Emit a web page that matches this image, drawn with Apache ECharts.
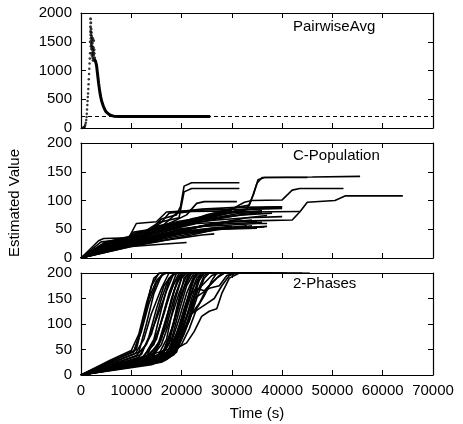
<!DOCTYPE html>
<html><head><meta charset="utf-8">
<script src="https://cdn.jsdelivr.net/npm/echarts@6/dist/echarts.min.js"></script>
<style>html,body{margin:0;padding:0;background:#fff}#c{width:463px;height:424px}</style>
</head><body><div id="c"></div>
<script>
// ---------- DATA ----------
const panelTitles = ['PairwiseAvg', 'C-Population', '2-Phases'];
const xAxisTitle = 'Time (s)';
const yAxisTitle = 'Estimated Value';
const timeRange = [0, 70000];
const timeStep = 10000;
const valueRanges = [[0, 2000, 500], [0, 200, 50], [0, 200, 50]];

// PairwiseAvg panel
const pairwiseRise = [[300,0],[500,8],[650,15],[750,30],[850,55],[950,90],[1050,140],[1100,190],[1150,250],[1200,320],[1250,400],[1300,470],[1350,540],[1400,600],[1450,680],[1500,760],[1550,850],[1600,940],[1650,1030],[1700,1120],[1750,1210],[1800,1300]];
const pairwisePeak = [[1900,1900],[1950,1830],[1900,1760],[2000,1720],[2050,1660],[1950,1620],[2100,1600],[2000,1560],[2150,1520],[2050,1460],[2200,1420],[2100,1380],[2300,1360],[2400,1320],[2200,1260],[2500,1270],[2600,1300],[2700,1220],[2400,1180],[2800,1170],[2300,1560],[2500,1520],[2600,1360],[1900,1680],[2000,1420],[2150,1300],[2350,1220],[1850,1500],[2250,1480],[2450,1400]];
const pairwiseDecay = [[2600,1200],[2900,1160],[3100,1080],[3300,930],[3500,780],[3700,650],[3900,550],[4100,470],[4400,390],[4700,325],[5000,280],[5500,240],[6000,218],[6500,206],[7500,200],[25700,200]];
const referenceLine = [[0,200],[70000,200]];

// C-Population panel (one array per run)
const cPopulationRuns = [
  [[0,0],[3500,30],[4500,34],[9500,35],[11000,60],[15000,63],[17000,80],[21000,82],[24000,85],[31000,88],[40000,89]],
  [[0,0],[4000,28],[9000,32],[10500,45],[14000,50],[16000,68],[19000,75],[19800,90],[20500,125],[22000,131],[31500,131]],
  [[0,0],[5000,25],[10000,35],[13000,48],[15500,62],[19500,70],[20500,115],[22000,121],[31500,121]],
  [[0,0],[6000,24],[10000,30],[14000,45],[17500,60],[21000,75],[23000,95],[24500,98],[31000,98]],
  [[0,0],[5000,20],[10000,30],[15000,45],[20000,60],[25000,75],[31000,88],[33500,92],[35000,130],[36000,140],[46000,141],[55500,142]],
  [[0,0],[6000,22],[12000,35],[17000,55],[22000,68],[28000,78],[33000,85],[34300,110],[35200,136],[36500,140],[45000,140]],
  [[0,0],[7000,23],[13000,38],[18000,55],[24000,70],[30000,85],[32500,97],[34000,100],[40000,101],[42000,118],[43500,121],[52200,121]],
  [[0,0],[8000,22],[14000,35],[20000,48],[26000,60],[30000,64],[36000,65],[42000,66],[43500,80],[45000,97],[50500,100],[52500,108],[64000,108]],
  [[0,0],[10000,20],[16000,24],[21000,27]],
  [[0,0],[9500,19],[15000,28],[22000,40],[27000,50],[31000,52],[37000,55]],
  [[0,0],[9000,21],[15000,32],[20000,43],[26000,50],[32000,53],[36500,54]],
  [[0,0],[8000,22],[14000,36],[19000,48],[25000,57],[30000,60],[36000,62]],
  [[0,0],[7000,25],[11000,32],[14000,50],[17000,58],[22000,62],[27000,66],[33000,70],[40000,72]],
  [[0,0],[6000,27],[10000,35],[13000,42],[15000,55],[19500,64],[24000,70],[28000,78],[33000,80],[43500,81]],
  [[0,0],[5000,28],[10000,38],[13000,45],[16000,62],[17500,78],[21000,82],[26000,84],[35000,85],[40000,86]],
  [[0,0],[4500,26],[9000,34],[11000,44],[14000,48],[16500,58],[19000,78],[22000,81],[30000,82]],
  [[0,0],[5500,24],[11000,36],[15000,45],[18000,55],[23000,65],[28000,75],[32000,84],[37000,88],[40000,88]],
  [[0,0],[7000,20],[12000,30],[17000,40],[22000,48],[27000,52],[32000,54],[34000,56]],
  [[0,0],[8000,20],[13000,27],[18000,36],[23000,44],[28000,50],[35000,52]],
  [[0,0],[6500,22],[12000,32],[16000,38],[19000,50],[24000,55],[29000,57],[35000,60],[37000,60]],
  [[0,0],[4000,22],[8000,30],[12000,40],[16000,50],[18500,60],[21000,64],[26000,68],[32000,75],[38000,78]],
  [[0,0],[7500,22],[12500,30],[17000,38],[21000,46],[26000,52],[30000,55]],
  [[0,0],[9000,24],[14000,33],[20000,42],[25000,48],[28000,52],[33000,56]],
  [[0,0],[5000,23],[10000,33],[14000,42],[18000,50],[21000,58],[24000,66],[28000,72],[31000,77],[36000,80]],
  [[0,0],[6000,26],[10000,36],[12500,45],[16000,55],[20000,58],[23000,65],[27000,75],[31000,80],[36000,82]],
  [[0,0],[8500,25],[13000,36],[18000,46],[22000,52],[26000,58],[30000,65],[33000,70],[37000,74]],
  [[0,0],[10000,22],[16000,30],[20000,35],[24000,40],[26500,42]],
  [[0,0],[7000,24],[12000,34],[16000,44],[20000,54],[23000,60],[30000,63],[35000,64]],
  [[0,0],[6000,25],[11000,34],[16000,48],[21000,58],[26000,66],[31000,74],[35000,78]],
  [[0,0],[9000,22],[15000,34],[20000,46],[24000,55],[29000,62],[34000,66]],
  [[0,0],[5000,26],[9000,32],[12000,46],[16000,52],[20000,62],[25000,72],[30000,80],[35000,86],[37000,87]]
];

// 2-Phases panel (one array per run)
const twoPhasesRuns = [
  [[0,0],[5800,29],[10000,48],[11500,80],[13000,140],[14500,190],[15700,200],[24000,200]],
  [[0,0],[6000,27],[10500,45],[12000,90],[13500,150],[15000,185],[16500,200],[28000,200]],
  [[0,0],[10800,42],[12500,70],[14000,120],[16000,170],[17500,200],[30000,200]],
  [[0,0],[11000,38],[13000,60],[15000,110],[17000,165],[18500,200],[32000,200]],
  [[0,0],[11500,35],[14000,80],[16000,150],[17500,190],[19000,200],[36000,200]],
  [[0,0],[12000,33],[14500,60],[16500,120],[18000,170],[19500,200],[26000,200]],
  [[0,0],[12000,30],[15000,70],[17000,140],[18500,180],[20000,200],[35000,200]],
  [[0,0],[12500,32],[15000,55],[17000,95],[18500,150],[20000,190],[21000,200],[37000,200]],
  [[0,0],[13000,30],[15500,65],[17500,130],[19000,180],[20500,200],[30000,200]],
  [[0,0],[13500,28],[16000,60],[18000,115],[19500,160],[21000,195],[22000,200],[40000,200]],
  [[0,0],[14000,27],[16500,50],[18000,90],[19500,140],[21000,185],[22000,200],[33000,200]],
  [[0,0],[14000,25],[16500,45],[18500,100],[20000,160],[21500,200],[36500,200]],
  [[0,0],[14500,26],[17000,55],[19000,120],[20500,170],[22000,200],[45500,200]],
  [[0,0],[15000,25],[17000,40],[19000,80],[20500,130],[22000,175],[23000,200],[38000,200]],
  [[0,0],[15000,24],[17500,50],[19500,110],[21000,160],[22500,195],[23500,200],[29000,200]],
  [[0,0],[15500,26],[18000,55],[20000,100],[21500,150],[23000,190],[24000,200],[41000,200]],
  [[0,0],[16000,28],[18000,45],[20000,85],[22000,140],[23500,185],[24500,200],[34000,200]],
  [[0,0],[16000,25],[18500,40],[20000,70],[21500,110],[23000,160],[24500,195],[25500,200],[37000,200]],
  [[0,0],[16500,30],[19000,50],[20500,80],[22000,120],[23500,130],[25000,140],[26500,150],[28000,175],[29500,195],[31000,200],[37000,200]],
  [[0,0],[16500,28],[19500,55],[21000,63],[22500,85],[24000,115],[25500,125],[27000,130],[28000,160],[29500,190],[31500,200],[44000,200]],
  [[0,0],[17000,30],[19000,45],[21000,100],[22500,150],[24000,160],[25500,170],[27500,175],[29000,195],[30500,200],[36000,200]],
  [[0,0],[12000,40],[13500,75],[15000,130],[16500,175],[18000,195],[19000,200],[31000,200]],
  [[0,0],[11500,45],[13000,100],[14500,160],[16000,195],[17000,200],[27000,200]],
  [[0,0],[13000,35],[15500,90],[17500,160],[19000,200],[33000,200]],
  [[0,0],[14000,30],[16000,70],[18000,150],[19500,195],[20500,200],[38000,200]],
  [[0,0],[17000,35],[19000,60],[21000,130],[22500,175],[24000,200],[35000,200]],
  [[0,0],[17500,40],[19500,75],[21500,130],[23000,165],[24500,180],[26000,195],[27500,200],[36000,200]],
  [[0,0],[18000,45],[20000,95],[21500,155],[23000,170],[24500,165],[26000,180],[27500,195],[28500,200],[33000,200]],
  [[0,0],[15500,30],[17500,60],[19000,130],[20500,190],[21500,200],[26000,200]],
  [[0,0],[13500,32],[15500,60],[17000,105],[18500,165],[20000,200],[30000,200]],
  [[0,0],[10500,47],[12000,85],[13500,140],[15000,180],[16500,200],[25000,200]],
  [[0,0],[16500,35],[18500,70],[20500,120],[22000,180],[23000,200],[37000,200]],
  [[0,0],[18500,48],[20000,75],[21500,105],[23000,150],[24500,190],[25500,200],[30000,200]],
  [[0,0],[19000,55],[20500,90],[22000,120],[23500,140],[25000,170],[27000,190],[28500,200],[35000,200]],
  [[0,0],[14000,20],[16500,29],[19000,49],[20500,95],[22000,150],[23500,190],[24500,200],[32000,200]],
  [[0,0],[9000,40],[11000,50],[12500,110],[14000,175],[15500,200],[22000,200]],
  [[0,0],[12500,36],[14500,70],[16000,130],[17500,185],[18500,200],[29000,200]],
  [[0,0],[15000,32],[17000,70],[18500,140],[20000,190],[21000,200],[31000,200]],
  [[0,0],[17500,42],[19500,85],[21000,140],[22500,190],[23500,200],[34000,200]],
  [[0,0],[13000,24],[16000,40],[18000,70],[19500,125],[21000,175],[22500,200],[30000,200]],
  [[0,0],[18000,40],[20000,60],[21500,90],[23000,130],[24500,155],[26000,185],[27000,200],[33000,200]]
];

// ---------- CHART ----------
const FONT = '"Liberation Sans", Arial, Helvetica, sans-serif';
const gridDefs = [{top:13,height:115},{top:143,height:115},{top:273,height:102}];
const grid = gridDefs.map(g => ({left:81, width:352, top:g.top, height:g.height}));
const axisLineStyle = {color:'#000', width:1.2};
const fmt = v => String(v);

const xAxis = [], yAxis = [];
gridDefs.forEach((g, i) => {
  ['bottom','top'].forEach(pos => {
    xAxis.push({
      type:'value', gridIndex:i, position:pos, min:timeRange[0], max:timeRange[1], interval:timeStep,
      axisLine:{show:true, onZero:false, lineStyle:axisLineStyle},
      axisTick:{show:true, inside:true, length:5, lineStyle:{color:'#000', width:1}},
      axisLabel:{show: (i===2 && pos==='bottom'), formatter:fmt, color:'#000', fontSize:15, fontFamily:FONT, margin:8},
      splitLine:{show:false}
    });
  });
  ['left','right'].forEach(pos => {
    yAxis.push({
      type:'value', gridIndex:i, position:pos, min:valueRanges[i][0], max:valueRanges[i][1], interval:valueRanges[i][2],
      axisLine:{show:true, onZero:false, lineStyle:axisLineStyle},
      axisTick:{show:true, inside:true, length:5, lineStyle:{color:'#000', width:1}},
      axisLabel:{show: pos==='left', formatter:fmt, color:'#000', fontSize:15, fontFamily:FONT, margin:9},
      splitLine:{show:false}
    });
  });
});

const series = [];
series.push({type:'line', xAxisIndex:0, yAxisIndex:0, data:referenceLine, showSymbol:false, silent:true,
  lineStyle:{color:'#000', width:1, type:[4,3]}});
series.push({type:'scatter', xAxisIndex:0, yAxisIndex:0, data:pairwiseRise, symbolSize:2.5, itemStyle:{color:'#000'}, silent:true});
series.push({type:'scatter', xAxisIndex:0, yAxisIndex:0, data:pairwisePeak, symbolSize:3, itemStyle:{color:'#000'}, silent:true});
series.push({type:'line', xAxisIndex:0, yAxisIndex:0, data:pairwiseDecay, showSymbol:false, silent:true,
  lineStyle:{color:'#000', width:3}});
cPopulationRuns.forEach(run => series.push({type:'line', xAxisIndex:2, yAxisIndex:2, data:run, showSymbol:false, silent:true,
  lineStyle:{color:'#000', width:1.6}}));
twoPhasesRuns.forEach(run => series.push({type:'line', xAxisIndex:4, yAxisIndex:4, data:run, showSymbol:false, silent:true,
  lineStyle:{color:'#000', width:1.6}}));

const textStyle = (t, x, y, extra) => Object.assign({type:'text', x, y, style:{text:t, fill:'#000', font:'15px ' + FONT, textVerticalAlign:'middle'}}, extra || {});
const graphic = [
  textStyle(panelTitles[0], 293, 27),
  textStyle(panelTitles[1], 293, 156),
  textStyle(panelTitles[2], 293, 284),
  {type:'text', x:257, y:414, style:{text:xAxisTitle, fill:'#000', font:'15px ' + FONT, textAlign:'center', textVerticalAlign:'middle'}},
  {type:'text', x:15, y:203, rotation:Math.PI/2, style:{text:yAxisTitle, fill:'#000', font:'15px ' + FONT, textAlign:'center', textVerticalAlign:'middle'}}
];

const chart = echarts.init(document.getElementById('c'), null, {renderer:'canvas'});
chart.setOption({animation:false, backgroundColor:'#fff', grid, xAxis, yAxis, series, graphic});
</script></body></html>
